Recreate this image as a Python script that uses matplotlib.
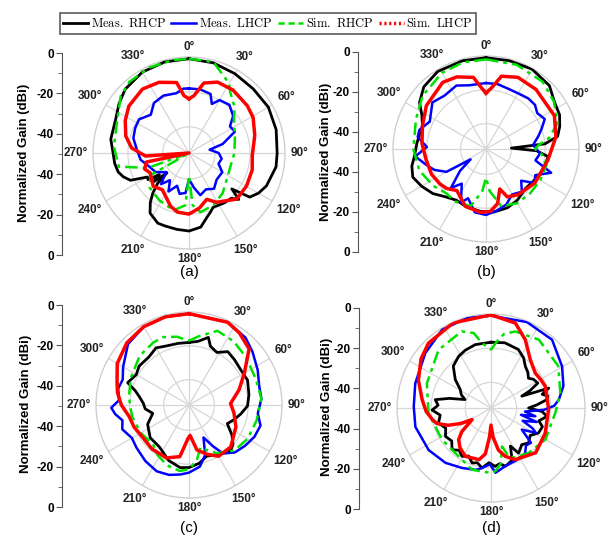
import numpy as np
import matplotlib
matplotlib.use("Agg")
import matplotlib.pyplot as plt
from matplotlib.lines import Line2D

plt.rcParams['font.family'] = ['Liberation Sans', 'DejaVu Sans']
plt.rcParams['mathtext.fontset'] = 'cm'

# ---------------- data (angle in deg, gain in dB) ----------------
# (a)
a_mr_ang = [0, 15, 30, 45, 60, 75, 90, 99, 113, 120, 126, 130, 133, 137, 145, 156, 160, 164, 171, 180, 189,
            198, 204, 213, 218, 222, 226, 228, 231, 234, 237, 240, 245, 250, 255, 262, 270, 280, 295, 305,
            315, 330, 345, 360]
a_mr = [-1, -1.5, -2.5, -3, -2.5, -3.3, -4.5, -4.5, -6.8, -9, -12, -23, -16, -19.5, -20, -21, -19, -17, -12,
        -10.3, -10.7, -11, -11, -14, -19, -24, -30, -38, -28, -34, -27, -27.5, -18, -15, -13, -12, -11.5,
        -9.5, -8.7, -6, -3.3, -1.5, -1, -1]
a_ml_ang = [0, 10, 20, 25, 30, 40, 50, 57, 65, 75, 81, 90, 100, 110, 120, 134, 145, 155, 165, 172, 180,
            185, 193, 200, 208, 215, 222, 230, 240, 251, 262, 274, 285, 295, 304, 315, 325, 336, 348, 355, 360]
a_ml = [-18, -18, -19, -24, -20, -19, -22, -27, -26, -35, -43, -38, -36, -37, -33, -33, -30, -32, -30, -35, -40,
        -32, -31, -35, -30, -36, -31, -38, -33, -31, -27, -25, -22, -21, -20.5, -24, -20, -19, -20, -18, -18]
a_sr_ang = [0, 15, 30, 34, 45, 53, 70, 90, 110, 122, 140, 155, 169, 176, 180, 184, 195, 212, 229, 240,
            245, 250, 259, 275, 295, 310, 320, 335, 350, 360]
a_sr = [-1, -1, -9, -12.8, -18, -22.8, -27, -29, -30, -29, -25, -22, -20.5, -25, -42, -25, -21, -23, -25, -30,
        -55, -30, -14, -11.8, -9.7, -4, -1.8, -1, -1, -1]
a_sl_ang = [0, 5, 12, 22, 35, 51, 61, 75, 92, 105, 120, 134, 151, 159, 169, 180, 191, 199, 216, 227, 243,
            250, 258, 262, 266, 275, 285, 297, 308, 324, 337, 350, 355, 360]
a_sl = [-24, -22, -14, -11.2, -11, -12, -13, -16, -18.7, -17.5, -17, -17, -22.7, -26.6, -23, -20, -20.5,
        -22.7, -29, -27, -30, -28, -30, -55, -30, -22, -17.5, -14, -11.3, -9.7, -11, -14, -22, -24]

# (b)
b_mr_ang = [0, 15, 30, 45, 56, 65, 73, 80, 85, 88, 92, 97, 110, 123, 135, 149, 160, 173, 185, 198, 210,
            220, 230, 240, 249, 257, 264, 275, 290, 298, 305, 315, 328, 345, 360]
b_mr = [-1, -1, -0.5, -2, -6, -7, -9.4, -12, -20, -40, -25, -18, -19, -21, -22, -19.4, -18, -17.4, -18, -18.8,
        -20, -18, -14, -11, -8.6, -10, -12.4, -14, -15, -12, -7, -3, -1, -1, -1]
b_ml_ang = [0, 10, 20, 30, 40, 48, 55, 63, 70, 76, 85, 95, 103, 110, 118, 125, 132, 140, 150, 160, 170, 180,
            190, 200, 205, 215, 222, 230, 236, 240, 248, 256, 264, 272, 280, 286, 296, 311, 322, 335, 345, 360]
b_ml = [-16, -16, -17, -17, -16, -16, -18, -16, -20, -23, -27, -23, -25, -14, -22, -20, -27, -22, -24, -20,
        -18, -16, -17, -24, -20, -30, -24, -35, -44, -28, -22, -18, -13, -20, -14, -14, -18, -13, -15, -13.6,
        -16, -16]
b_sr_ang = [0, 20, 40, 55, 70, 80, 86, 90, 95, 105, 120, 135, 150, 165, 175, 180, 185, 195, 210, 222, 235,
            252, 270, 293, 310, 330, 345, 360]
b_sr = [-2, -2, -3, -6, -10, -17, -24, -26, -22, -18, -18, -18, -18, -20, -30, -38, -30, -20, -19, -19.8,
        -17, -13.6, -12, -10, -6, -3, -2, -2]
b_sl_ang = [0, 6, 12, 24, 40, 64, 80, 100, 125, 145, 156, 161, 168, 176, 185, 200, 215, 225, 233, 245, 260,
            275, 290, 306, 327, 338, 350, 355, 360]
b_sl = [-22, -18, -11, -8.6, -9, -10, -13, -17.8, -19.8, -22, -24, -30, -22, -18, -17.4, -19, -25, -22,
        -20.8, -19.5, -19, -17, -15, -11.4, -8, -9, -12, -18, -22]

# (c)
c_mr_ang = [0, 8, 16, 20, 28, 36, 45, 56, 67, 80, 91, 100, 108, 116, 125, 132, 138, 150, 161, 170, 180,
            188, 200, 215, 230, 245, 257, 265, 272, 280, 285, 290, 300, 308, 320, 330, 339, 350, 360]
c_mr = [-18, -17, -13.4, -18, -19.8, -16, -17, -18, -17.4, -19, -20.4, -24, -27, -29.8, -24, -20, -18.4,
        -21, -23, -20, -18, -17.6, -20, -24.6, -25, -28, -33, -29, -28, -25, -22, -16.4, -19, -17.6, -18,
        -16, -17.6, -18, -18]
c_ml_ang = [0, 25, 40, 50, 63, 75, 85, 97, 106, 116, 126, 136, 145, 150, 156, 162, 170, 180, 187, 196,
            206, 218, 231, 240, 250, 257, 263, 268, 274, 283, 291, 300, 315, 330, 345, 360]
c_ml = [-1, -1, -3, -6, -9.4, -12, -12, -14, -11, -12, -14, -16, -20, -27, -34, -24, -18, -15, -13.6, -12,
        -11.4, -13, -15, -16, -13, -14.6, -11, -9, -13.6, -12, -13, -10, -4, -1.5, -1, -1]
c_sr_ang = [0, 8, 21, 35, 50, 69, 85, 103, 120, 135, 150, 160, 165, 172, 180, 188, 200, 212, 223, 240,
            258, 270, 281, 295, 315, 330, 339, 350, 360]
c_sr = [-17, -14, -8, -9, -11, -12.6, -12, -14, -15, -17, -22, -27, -29, -22, -17, -15.6, -17, -20, -23.6,
        -22, -20.8, -20, -19, -17, -13.8, -12.5, -12, -14, -17]
c_sl_ang = [0, 25, 35, 47, 60, 73, 88, 100, 115, 135, 150, 160, 170, 178, 182, 190,
            203, 220, 235, 248, 259, 270, 280, 289, 300, 315, 330, 345, 360]
c_sl = [-1, -1, -3, -6.4, -17.2, -24, -30.4, -28, -24.4, -20, -20, -24, -28, -37, -35, -24,
        -21, -21, -21.6, -20, -19, -15, -12, -10, -6, -3, -1.5, -1, -1]

# (d)
d_mr_ang = [0, 12, 25, 33, 39.5, 46, 51.5, 56, 62, 66, 69, 71, 75, 78, 81.5, 86, 90, 94, 98.5, 105, 110,
            117.7, 125, 133, 140, 148.5, 153, 158, 166, 171, 176, 182, 188.5, 194, 199, 205, 211, 217, 223,
            230, 238, 246, 254, 262, 268, 273, 278.5, 283, 288, 294, 301, 308.5, 318, 328, 336, 346, 360]
d_mr = [-16.5, -16, -17.2, -20, -23.4, -25, -27, -25, -24, -30, -35.7, -19.3, -24, -21, -22, -28, -33, -25,
        -21.9, -26, -23, -23.6, -27, -25, -27, -24, -30, -22, -19.9, -22, -20.8, -23, -19.5, -22, -21, -24,
        -22, -24, -21.6, -25, -23.6, -26, -23, -25, -20.5, -24, -22, -30, -39, -36, -34, -28.3, -22, -19.3,
        -18, -16.8, -16.5]
d_ml_ang = [0, 22.7, 41.8, 59.6, 73, 83, 88, 92, 96, 100.6, 102.8, 107, 112, 116, 119, 125, 131, 137, 143,
            155, 166, 176, 181, 185.5, 190, 194, 206, 219.7, 236, 256, 271, 288, 310, 328, 345, 360]
d_ml = [-1, -0.5, -1.4, -6.8, -10.7, -15, -18, -24, -35, -28.6, -37, -27, -35, -28, -25, -33, -24, -25,
        -21.8, -21, -20, -17, -22, -20.7, -19, -17.7, -16, -13.3, -11, -9.4, -9.8, -8.4, -4.9, -1, -0.5, -1]
d_sr_ang = [0, 5, 10, 17.6, 35, 58, 77.8, 94, 120, 140, 155, 160, 164, 170, 176, 180, 197, 214, 237, 265,
            291, 318, 339, 347, 352, 360]
d_sr = [-21, -16, -11, -8, -6.2, -8.6, -13.5, -17.2, -18.2, -20.7, -23, -25, -31.6, -22, -18, -17, -17.2,
        -21, -20.9, -18.3, -14.8, -9.2, -7, -10, -16.6, -21]
d_sl_ang = [0, 16, 26.7, 39, 51.7, 60, 68, 91, 115, 135, 154.8, 163.5, 170, 176, 180, 183, 187, 193, 208,
            218, 225.6, 231, 238.5, 243, 248, 254, 259, 267, 277, 291, 305, 316, 336, 360]
d_sl = [-0.5, -3.3, -10.3, -18.5, -22, -21.5, -20.8, -21.3, -20, -18, -21.6, -25.5, -30, -38, -45, -38, -28,
        -24, -23, -25.5, -28.5, -33, -42, -35, -28, -22, -20, -17, -14.4, -9.5, -5, -2.3, -0.5, -0.5]

panel_names = ['(a)', '(b)', '(c)', '(d)']
theta_labels = ['0°', '30°', '60°', '90°', '120°', '150°', '180°', '210°', '240°', '270°', '300°', '330°']
left_tick_labels = ['0', '-20', '-40', '-40', '-20', '0']
legend_labels = [r'$\mathrm{Meas.\ RHCP}$', r'$\mathrm{Meas.\ LHCP}$',
                 r'$\mathrm{Sim.\ RHCP}$', r'$\mathrm{Sim.\ LHCP}$']

curves = [
    [(a_mr_ang, a_mr), (a_ml_ang, a_ml), (a_sr_ang, a_sr), (a_sl_ang, a_sl)],
    [(b_mr_ang, b_mr), (b_ml_ang, b_ml), (b_sr_ang, b_sr), (b_sl_ang, b_sl)],
    [(c_mr_ang, c_mr), (c_ml_ang, c_ml), (c_sr_ang, c_sr), (c_sl_ang, c_sl)],
    [(d_mr_ang, d_mr), (d_ml_ang, d_ml), (d_sr_ang, d_sr), (d_sl_ang, d_sl)],
]

# ---------------- layout (pixels) ----------------
W, H = 614, 542
centers = [(189, 153, 96), (486, 149, 93), (189, 405, 93), (491, 408, 94)]
left_axes = [(62, 53, 255), (358, 52, 252), (62, 305, 507), (359, 308, 509)]
ylabel_pos = [(24, 153), (326, 152), (26, 404), (327, 407)]

colors = ['black', '#0000ff', '#00e000', '#ff0000']
widths = [2.0, 1.8, 1.8, 2.5]
plot_ls = ['-', '-', (0, (5, 2, 1.5, 2)), '-']
legend_ls = ['-', '-', (0, (2.5, 1.5)), (0, (0.6, 0.8))]

fig = plt.figure(figsize=(W / 100, H / 100), dpi=100)

for k in range(4):
    cx, cy, R = centers[k]
    ax = fig.add_axes([(cx - R) / W, 1 - (cy + R) / H, 2 * R / W, 2 * R / H], projection='polar')
    ax.set_theta_zero_location('N')
    ax.set_theta_direction(-1)
    for (ang, val), c, lw, ls in zip(curves[k], colors, widths, plot_ls):
        ax.plot(np.deg2rad(ang), val, color=c, lw=lw, ls=ls, zorder=3)
    ax.set_rlim(-55, 0)
    ax.set_rticks([-40, -20])
    ax.set_yticklabels([])
    ax.set_xticks(np.deg2rad(np.arange(0, 360, 30)))
    ax.set_xticklabels([])
    ax.grid(True, color='#d6d6d6', lw=0.9)
    ax.spines['polar'].set_color('#cfcfcf')
    ax.spines['polar'].set_linewidth(1.0)
    ax.tick_params(pad=0, length=0)
    for t, lab in zip(range(0, 360, 30), theta_labels):
        s, c = np.sin(np.deg2rad(t)), np.cos(np.deg2rad(t))
        hw = 3.3 * len(lab) + 0.5
        off = 4 + hw * abs(s) + 6 * abs(c)
        ax.annotate(lab, xy=(np.deg2rad(t), 0), xytext=(off * s, off * c), textcoords='offset pixels',
                    ha='center', va='center', fontsize=8.5, fontweight='bold', color='#222222',
                    annotation_clip=False)
    fig.text(cx / W, 1 - 272 / H if k < 2 else 1 - 528 / H, panel_names[k], ha='center', va='center',
             fontsize=11)

    # left linear gain axis
    x0, ytop, ybot = left_axes[k]
    lax = fig.add_axes([x0 / W, 1 - ybot / H, 0.0005, (ybot - ytop) / H])
    lax.set_ylim(-50, 50)
    lax.set_xticks([])
    for sp in ['top', 'right', 'bottom']:
        lax.spines[sp].set_visible(False)
    lax.spines['left'].set_color('#555555')
    lax.set_yticks([50, 30, 10, -10, -30, -50])
    lax.set_yticklabels(left_tick_labels, fontsize=8.5, fontweight='bold')
    lax.set_yticks([40, 20, 0, -20, -40], minor=True)
    lax.tick_params(axis='y', which='major', length=4, color='#555555', pad=2)
    lax.tick_params(axis='y', which='minor', length=3, color='#555555')
    lax.patch.set_visible(False)
    lx, ly = ylabel_pos[k]
    fig.text(lx / W, 1 - ly / H, 'Normalized Gain (dBi)', rotation=90, ha='center', va='center',
             fontsize=9.5, fontweight='bold')

handles = [Line2D([], [], color=c, lw=lw, ls=ls) for c, lw, ls in zip(colors, widths, legend_ls)]
leg = fig.legend(handles, legend_labels, loc='center', bbox_to_anchor=(268 / W, 1 - 23.5 / H), ncol=4,
                 frameon=True, fancybox=False, fontsize=9, handlelength=2.0, handletextpad=0.2,
                 columnspacing=0.45, borderpad=0.3, borderaxespad=0)
leg.get_frame().set_edgecolor('#333333')
leg.get_frame().set_linewidth(1.2)

fig.savefig('out.png', dpi=100)
